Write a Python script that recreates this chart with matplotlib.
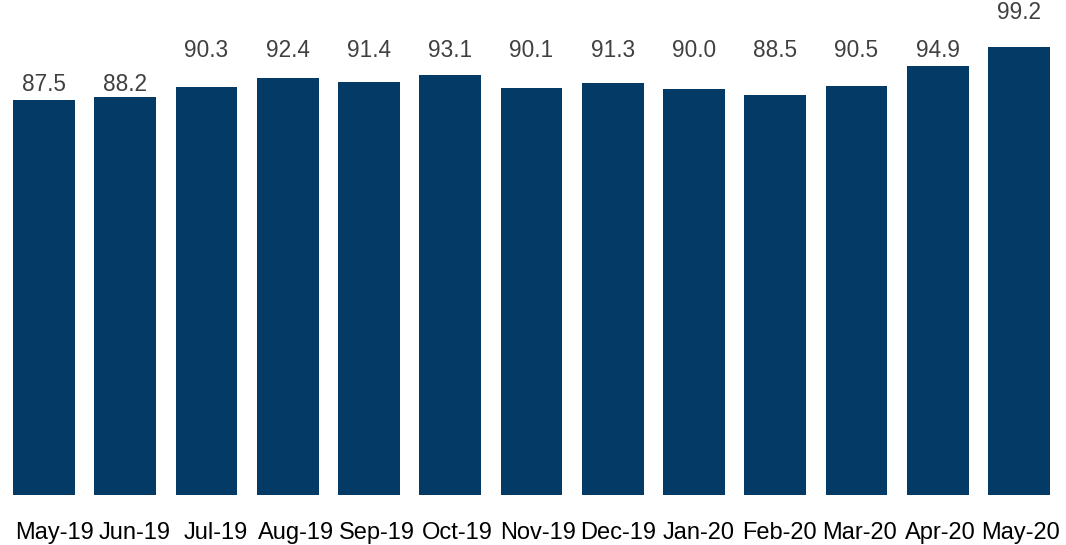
import numpy as np
import matplotlib.pyplot as plt

months = ["May-19", "Jun-19", "Jul-19", "Aug-19", "Sep-19", "Oct-19", "Nov-19",
          "Dec-19", "Jan-20", "Feb-20", "Mar-20", "Apr-20", "May-20"]
values = [87.5, 88.2, 90.3, 92.4, 91.4, 93.1, 90.1, 91.3, 90.0, 88.5, 90.5, 94.9, 99.2]
# height of each value label (data units)
label_y = [90.8, 90.8, 98.4, 98.4, 98.4, 98.4, 98.4, 98.4, 98.4, 98.4, 98.4, 98.4, 106.9]

plt.rcParams['font.family'] = ['Liberation Sans', 'DejaVu Sans']

fig = plt.figure(figsize=(10.66, 5.45), dpi=100)
ax = fig.add_axes([3.4 / 1066, 50 / 545, 1056.2 / 1066, 495 / 545])

x = np.arange(len(months))
ax.bar(x, values, width=0.76, color="#033a66")

for xi, v, ly in zip(x, values, label_y):
    ax.text(xi, ly, f"{v:.1f}", ha="center", va="center", fontsize=16.3, color="#404040")

ax.set_xlim(-0.5, len(months) - 0.5)
ax.set_ylim(0, 109.6)
# category labels are spread a touch tighter than the bars
ax.set_xticks(np.linspace(0.13, 12.02, len(months)))
ax.set_xticklabels(months, fontsize=17, color="black")
ax.tick_params(axis="x", length=0, pad=19.5)
ax.set_yticks([])
for s in ax.spines.values():
    s.set_visible(False)

plt.savefig("out.png", dpi=100)
plt.close()
